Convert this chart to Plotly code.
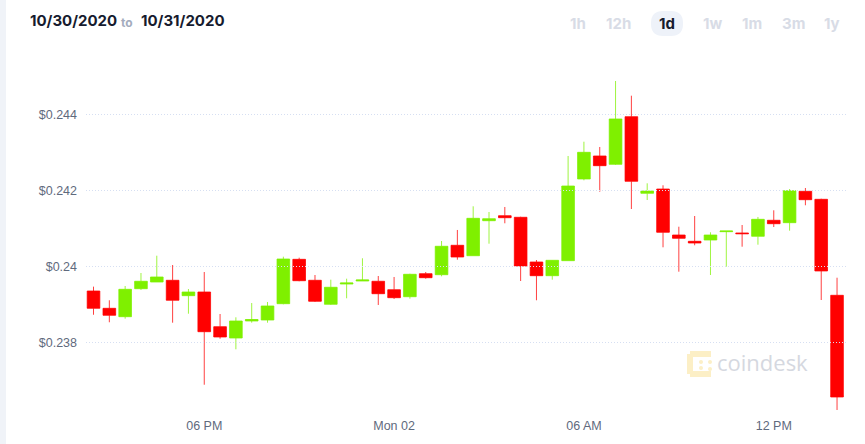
import pandas as pd
import plotly.graph_objects as go

# ---------------- data ----------------
start_time = "2020-11-01 14:30"
n_candles = 48
times = pd.date_range(start=start_time, periods=n_candles, freq="30min")

opens = [0.239355, 0.2389, 0.238679, 0.239416, 0.239592, 0.239637, 0.239232, 0.239329,
         0.238416, 0.238118, 0.238566, 0.238592, 0.239021, 0.240189, 0.239637, 0.239005,
         0.239539, 0.239618, 0.239611, 0.239389, 0.239205, 0.239811, 0.239784, 0.240558,
         0.240284, 0.241205, 0.241337, 0.241295, 0.240118, 0.239758, 0.240153, 0.242303,
         0.242908, 0.242689, 0.243942, 0.241926, 0.242039, 0.240829, 0.240663, 0.240697,
         0.240916, 0.240882, 0.240795, 0.241216, 0.241153, 0.241979, 0.241768, 0.239242]
highs = [0.23947, 0.239111, 0.239487, 0.239829, 0.240284, 0.240039, 0.239408, 0.239855,
         0.23875, 0.238663, 0.239039, 0.239066, 0.240258, 0.240232, 0.239776, 0.239653,
         0.239679, 0.240216, 0.23975, 0.239724, 0.23981, 0.239855, 0.240671, 0.240961,
         0.241584, 0.241434, 0.241566, 0.24131, 0.240171, 0.24017, 0.242908, 0.243284,
         0.243145, 0.244882, 0.244495, 0.242189, 0.242137, 0.241047, 0.241329, 0.2409,
         0.240934, 0.241092, 0.241303, 0.241479, 0.242039, 0.242066, 0.241784, 0.239705]
lows = [0.23873, 0.238532, 0.238626, 0.239382, 0.239592, 0.238521, 0.238758, 0.236889,
        0.2381, 0.237821, 0.238521, 0.238521, 0.239005, 0.239611, 0.239066, 0.238987,
        0.239163, 0.239618, 0.238987, 0.239145, 0.239153, 0.239679, 0.239742, 0.240179,
        0.240284, 0.2406, 0.241137, 0.239618, 0.239111, 0.239653, 0.240153, 0.242268,
        0.241968, 0.242671, 0.241513, 0.24175, 0.240505, 0.239863, 0.240558, 0.239776,
        0.239995, 0.240521, 0.240574, 0.241039, 0.240942, 0.241611, 0.239118, 0.236224]
closes = [0.2389, 0.238716, 0.2394, 0.239611, 0.239724, 0.239111, 0.239329, 0.238284,
          0.238145, 0.238566, 0.238605, 0.238961, 0.240197, 0.239626, 0.239084, 0.239453,
          0.239566, 0.239645, 0.239284, 0.239179, 0.239795, 0.239705, 0.240532, 0.24025,
          0.241268, 0.241258, 0.241284, 0.240013, 0.239758, 0.240163, 0.242118, 0.243005,
          0.242653, 0.243882, 0.242242, 0.241987, 0.2409, 0.240742, 0.240618, 0.240829,
          0.240934, 0.240863, 0.241242, 0.241126, 0.241995, 0.241758, 0.239882, 0.236566]

y_tick_vals = [0.238, 0.24, 0.242, 0.244]
y_tick_text = ["$0.238", "$0.24", "$0.242", "$0.244"]
x_tick_vals = ["2020-11-01 18:00", "2020-11-02 00:00", "2020-11-02 06:00", "2020-11-02 12:00"]
x_tick_text = ["06 PM", "Mon 02", "06 AM", "12 PM"]
x_range = ["2020-11-01 14:15:45", "2020-11-02 14:17"]
y_range = [0.236171, 0.245171]

date_from = "10/30/2020"
date_to = "10/31/2020"
range_buttons = ["1h", "12h", "1d", "1w", "1m", "3m", "1y"]
active_button = "1d"

# ---------------- layout geometry ----------------
W, H = 865, 444
ML, MR, MT, MB = 86, 19, 70, 32
PW, PH = W - ML - MR, H - MT - MB


def px_x(px):
    return (px - ML) / PW


def px_y(py):
    return (H - MB - py) / PH


GREEN = "#7ff000"
RED = "#ff0000"

fig = go.Figure()
fig.add_trace(go.Candlestick(
    x=times, open=opens, high=highs, low=lows, close=closes,
    increasing=dict(fillcolor=GREEN, line=dict(color="rgba(127,240,0,0.75)", width=1)),
    decreasing=dict(fillcolor=RED, line=dict(color="rgba(255,0,0,0.75)", width=1)),
    whiskerwidth=0, showlegend=False, hoverinfo="skip",
))

shapes = []
# left page strip
shapes.append(dict(type="rect", xref="paper", yref="paper",
                   x0=px_x(0), x1=px_x(6), y0=px_y(H), y1=px_y(0),
                   fillcolor="#f0f3f8", line=dict(width=0), layer="below"))
# dotted gridlines drawn above candles
for v in y_tick_vals:
    shapes.append(dict(type="line", xref="paper", yref="y", x0=0, x1=1, y0=v, y1=v,
                       line=dict(color="#d6dff2", width=1, dash="1px,2px"), layer="above"))


def rr_path(x0, x1, y0, y1, r):
    X = px_x
    Y = px_y
    return ("M {a},{b} L {c},{b} Q {d},{b} {d},{e} L {d},{f} Q {d},{g} {c},{g} "
            "L {a},{g} Q {h},{g} {h},{f} L {h},{e} Q {h},{b} {a},{b} Z").format(
        a=X(x0 + r), b=Y(y0), c=X(x1 - r), d=X(x1), e=Y(y0 + r), f=Y(y1 - r),
        g=Y(y1), h=X(x0))


# active button pill
shapes.append(dict(type="path", xref="paper", yref="paper", path=rr_path(651, 683, 11, 36, 12),
                   fillcolor="#eef2f9", line=dict(width=0), layer="below"))

# coindesk logo (watermark)
LOGO = "#fcefc6"
for (x0, y0, x1, y1) in [(690, 354, 711, 354), (690, 354, 690, 374), (690, 374, 711, 374)]:
    shapes.append(dict(type="line", xref="paper", yref="paper",
                       x0=px_x(x0), x1=px_x(x1), y0=px_y(y0), y1=px_y(y1),
                       line=dict(color=LOGO, width=6), layer="below"))
for (cx, cy) in [(701, 362), (710, 362), (701, 368), (710, 369)]:
    shapes.append(dict(type="circle", xref="paper", yref="paper",
                       x0=px_x(cx - 2), x1=px_x(cx + 2), y0=px_y(cy - 2), y1=px_y(cy + 2),
                       fillcolor=LOGO, line=dict(width=0), layer="below"))

annotations = []
HFONT = "Inter, Arial, sans-serif"
annotations.append(dict(text="<b>%s</b>" % date_from, x=px_x(28), y=px_y(21), xref="paper", yref="paper",
                        xanchor="left", yanchor="middle", showarrow=False,
                        font=dict(family=HFONT, size=15, color="#161b2e")))
annotations.append(dict(text="<b>to</b>", x=px_x(119), y=px_y(22), xref="paper", yref="paper",
                        xanchor="left", yanchor="middle", showarrow=False,
                        font=dict(family=HFONT, size=12, color="#a4acbd")))
annotations.append(dict(text="<b>%s</b>" % date_to, x=px_x(139), y=px_y(21), xref="paper", yref="paper",
                        xanchor="left", yanchor="middle", showarrow=False,
                        font=dict(family=HFONT, size=15, color="#161b2e")))
button_centers = [578, 618, 667, 712, 752, 793, 832]
for lab, cx in zip(range_buttons, button_centers):
    annotations.append(dict(text="<b>%s</b>" % lab, x=px_x(cx), y=px_y(24), xref="paper", yref="paper",
                            xanchor="center", yanchor="middle", showarrow=False,
                            font=dict(family=HFONT, size=15,
                                      color="#161b2e" if lab == active_button else "#d8dce6")))
annotations.append(dict(text="coindesk", x=px_x(715), y=px_y(362), xref="paper", yref="paper",
                        xanchor="left", yanchor="middle", showarrow=False,
                        font=dict(family="Open Sans, sans-serif", size=22, color="#d5d8e0")))

AXFONT = dict(family="Liberation Sans, Arial, sans-serif", size=12.5, color="#5f6a7d")
fig.update_layout(
    width=W, height=H,
    margin=dict(l=ML, r=MR, t=MT, b=MB, pad=0),
    paper_bgcolor="white", plot_bgcolor="white",
    boxgap=0.2, boxgroupgap=0,
    hovermode=False,
    shapes=shapes, annotations=annotations,
    xaxis=dict(type="date", range=x_range, rangeslider=dict(visible=False),
               tickvals=x_tick_vals, ticktext=x_tick_text, showgrid=False,
               zeroline=False, showline=False, ticks="", tickfont=AXFONT,
               ticklabelstandoff=4),
    yaxis=dict(range=y_range, tickvals=y_tick_vals, ticktext=y_tick_text,
               showgrid=False, zeroline=False, showline=False, ticks="",
               tickfont=AXFONT, ticklabelstandoff=8),
)

fig.write_html("out.html")
